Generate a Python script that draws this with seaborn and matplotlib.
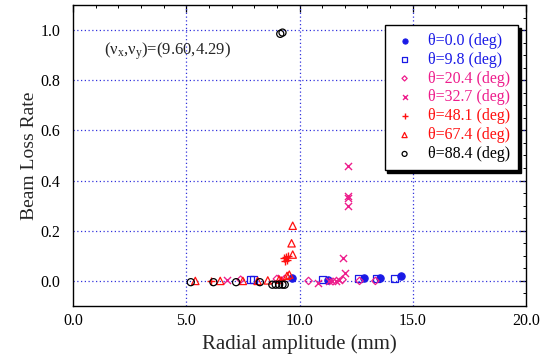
import numpy as np
import pandas as pd
import matplotlib
matplotlib.use("Agg")
import matplotlib.pyplot as plt
import seaborn as sns
from matplotlib.ticker import MultipleLocator, FormatStrFormatter

# ---- data ----
labels = ["θ=0.0 (deg)", "θ=9.8 (deg)", "θ=20.4 (deg)", "θ=32.7 (deg)",
          "θ=48.1 (deg)", "θ=67.4 (deg)", "θ=88.4 (deg)"]

x_t00 = [9.65, 11.25, 12.85, 13.55, 14.5]
y_t00 = [0.010, 0.005, 0.010, 0.012, 0.018]

x_t98 = [7.85, 7.95, 11.0, 12.6, 13.4, 14.2]
y_t98 = [0.007, 0.004, 0.005, 0.008, 0.008, 0.010]

x_t204 = [7.4, 9.0, 10.4, 11.9, 12.65, 13.35]
y_t204 = [0.005, 0.008, 0.000, 0.005, 0.000, 0.000]

x_t327 = [6.8, 9.2, 10.8, 11.3, 11.45, 11.6, 11.75, 11.9, 12.0, 12.14, 12.14, 12.14, 12.14]
y_t327 = [0.005, 0.010, -0.008, -0.002, 0.000, 0.000, 0.004, 0.09, 0.03, 0.46, 0.34, 0.33, 0.30]

x_t481 = [6.1, 9.2, 9.3, 9.35, 9.4, 9.45, 9.5]
y_t481 = [0.000, 0.002, 0.09, 0.08, 0.095, 0.085, 0.10]

x_t674 = [5.4, 6.5, 7.5, 8.15, 8.6, 9.1, 9.45, 9.55, 9.65, 9.7, 9.7]
y_t674 = [0.000, 0.000, 0.000, 0.000, 0.002, 0.005, 0.02, 0.025, 0.15, 0.22, 0.105]

x_t884 = [5.2, 6.2, 7.2, 8.25, 8.8, 8.95, 9.1, 9.25, 9.35, 9.15, 9.25]
y_t884 = [-0.005, -0.005, -0.005, -0.005, -0.015, -0.015, -0.015, -0.015, -0.015, 0.985, 0.99]

xs = [x_t00, x_t98, x_t204, x_t327, x_t481, x_t674, x_t884]
ys = [y_t00, y_t98, y_t204, y_t327, y_t481, y_t674, y_t884]

BLUE = "#1a1ae6"
PINK = "#ee1e8c"
RED = "#ff1010"
BLACK = "#000000"
colors = [BLUE, BLUE, PINK, PINK, RED, RED, BLACK]
markers = ["o", "s", "D", "x", "+", "^", "o"]
filled = [True, False, False, True, True, False, False]
sizes = [28, 26, 14, 26, 40, 28, 26]

rows = []
for lab, xx, yy in zip(labels, xs, ys):
    for a, b in zip(xx, yy):
        rows.append({"series": lab, "x": a, "y": b})
df = pd.DataFrame(rows)

sns.set_theme(style="white")
plt.rcParams["font.family"] = ["Liberation Serif", "DejaVu Serif"]
plt.rcParams["mathtext.fontset"] = "custom"
plt.rcParams["mathtext.rm"] = "Liberation Serif"
plt.rcParams["mathtext.it"] = "Liberation Serif"

fig = plt.figure(figsize=(5.41, 3.55), dpi=100)
ax = fig.add_axes([73/541, 1 - 306/355, (526-73)/541, (306-5)/355])

for lab, c, m, f, s in zip(labels, colors, markers, filled, sizes):
    sub = df[df["series"] == lab]
    if m in ("x", "+"):
        kw = dict(color=c, linewidth=1.0)
    elif f:
        kw = dict(color=c, edgecolor=c, linewidth=0.8)
    else:
        kw = dict(facecolor="none", edgecolor=c, linewidth=0.9)
    sns.scatterplot(data=sub, x="x", y="y", marker=m, s=s, ax=ax, label=lab,
                    zorder=3, **kw)

ax.set_xlim(0, 20)
ax.set_ylim(-0.1, 1.1)
ax.xaxis.set_major_locator(MultipleLocator(5))
ax.xaxis.set_minor_locator(MultipleLocator(1))
ax.yaxis.set_major_locator(MultipleLocator(0.2))
ax.yaxis.set_minor_locator(MultipleLocator(0.05))
ax.xaxis.set_major_formatter(FormatStrFormatter("%.1f"))
ax.yaxis.set_major_formatter(FormatStrFormatter("%.1f"))
ax.tick_params(which="both", direction="in", top=True, right=True, labelsize=11.5,
               colors="black")
ax.tick_params(axis="y", which="major", pad=9)
ax.tick_params(axis="x", which="major", pad=5)
ax.tick_params(which="major", length=5, width=0.9)
ax.tick_params(which="minor", length=2.5, width=0.7)
for sp in ax.spines.values():
    sp.set_color("black")
    sp.set_linewidth(1.0)

for xv in [5, 10, 15]:
    ax.axvline(xv, color="#3333dd", linestyle=(0, (1, 2)), linewidth=0.9, zorder=1)
for yv in [0.0, 0.2, 0.4, 0.6, 0.8, 1.0]:
    ax.axhline(yv, color="#3333dd", linestyle=(0, (1, 2)), linewidth=0.9, zorder=1)

ax.set_xlabel("Radial amplitude (mm)", fontsize=15, labelpad=4)
ax.set_ylabel("Beam Loss Rate", fontsize=14, labelpad=2)

ax.text(1.35, 0.915, r"(ν$_{\mathrm{x}}$,ν$_{\mathrm{y}}$)=(9.60,4.29)", fontsize=12,
        va="center", ha="left")

leg = ax.legend(loc="upper right", bbox_to_anchor=(0.982, 0.934), fontsize=11.5,
                frameon=True, fancybox=False, shadow={"color": "black", "alpha": 1},
                edgecolor="black", handletextpad=0.7, labelspacing=0.18,
                borderpad=0.5, handlelength=1.5, markerscale=0.7, borderaxespad=0)
leg.get_frame().set_linewidth(1.0)
for t, c in zip(leg.get_texts(), colors):
    t.set_color(c)

fig.savefig("out.png", dpi=100)
